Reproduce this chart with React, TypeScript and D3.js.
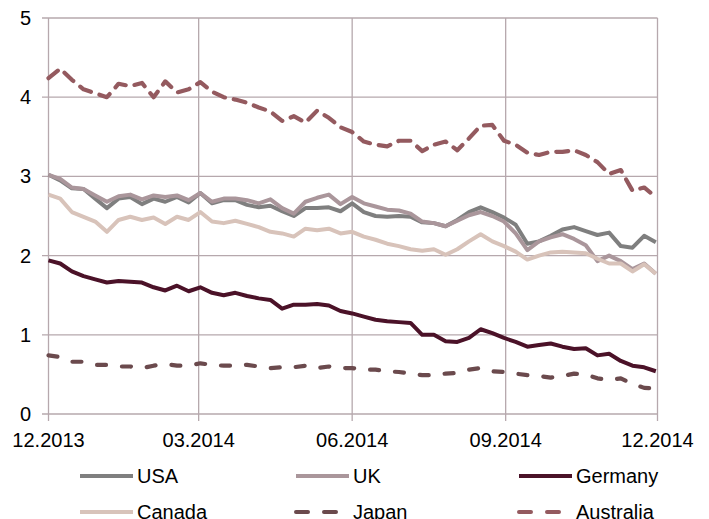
import * as d3 from "d3";

// weekly samples, Dec 2013 - Dec 2014
const startDate = new Date(2013, 11, 1);
const weeks = d3.range(53).map((i) => d3.timeDay.offset(startDate, i * 7));

const usa = [
  3.02, 2.95, 2.85, 2.84, 2.72, 2.6, 2.72, 2.74, 2.65, 2.72, 2.68, 2.74, 2.67, 2.79,
  2.66, 2.7, 2.7, 2.64, 2.61, 2.63, 2.56, 2.5, 2.6, 2.6, 2.61, 2.56, 2.66, 2.55,
  2.5, 2.49, 2.5, 2.49, 2.42, 2.41, 2.37, 2.45, 2.55, 2.61, 2.55, 2.48, 2.39, 2.15,
  2.18, 2.25, 2.33, 2.36, 2.31, 2.26, 2.29, 2.12, 2.1, 2.25, 2.17,
];
const uk = [
  3.02, 2.97, 2.86, 2.84, 2.76, 2.68, 2.75, 2.77, 2.71, 2.76, 2.74, 2.76, 2.7, 2.79,
  2.68, 2.72, 2.72, 2.7, 2.66, 2.71, 2.6, 2.53, 2.68, 2.73, 2.77, 2.65, 2.74, 2.66,
  2.62, 2.58, 2.57, 2.53, 2.43, 2.41, 2.37, 2.44, 2.51, 2.55, 2.5, 2.43, 2.28, 2.07,
  2.18, 2.23, 2.27, 2.21, 2.13, 1.93, 2.0, 1.93, 1.83, 1.9, 1.77,
];
const germany = [
  1.94, 1.9, 1.8, 1.74, 1.7, 1.66, 1.68, 1.67, 1.66, 1.6, 1.56, 1.62, 1.55, 1.6,
  1.53, 1.5, 1.53, 1.49, 1.46, 1.44, 1.33, 1.38, 1.38, 1.39, 1.37, 1.3, 1.27, 1.23,
  1.19, 1.17, 1.16, 1.15, 1.0, 1.0, 0.92, 0.91, 0.96, 1.07, 1.02, 0.96, 0.91, 0.85,
  0.87, 0.89, 0.85, 0.82, 0.83, 0.74, 0.76, 0.67, 0.61, 0.59, 0.54,
];
const canada = [
  2.77, 2.72, 2.55, 2.49, 2.43, 2.3, 2.45, 2.49, 2.45, 2.48, 2.4, 2.49, 2.45, 2.55,
  2.43, 2.41, 2.44, 2.4, 2.36, 2.3, 2.28, 2.24, 2.34, 2.32, 2.34, 2.28, 2.3, 2.24,
  2.2, 2.15, 2.12, 2.08, 2.06, 2.08, 2.01, 2.08, 2.18, 2.27, 2.18, 2.12, 2.05, 1.95,
  2.0, 2.04, 2.05, 2.04, 2.03, 1.96, 1.9, 1.9, 1.8, 1.89, 1.77,
];
const japan = [
  0.74, 0.72, 0.66, 0.66, 0.62, 0.62, 0.6, 0.6, 0.58, 0.61, 0.63, 0.61, 0.61, 0.64,
  0.62, 0.61, 0.61, 0.62, 0.6, 0.58, 0.59, 0.59, 0.61, 0.58, 0.6, 0.58, 0.58, 0.56,
  0.56, 0.54, 0.53, 0.51, 0.49, 0.49, 0.51, 0.52, 0.56, 0.58, 0.54, 0.53, 0.51, 0.49,
  0.48, 0.46, 0.48, 0.51, 0.5, 0.45, 0.43, 0.45, 0.38, 0.33, 0.32,
];
const australia = [
  4.24, 4.36, 4.22, 4.1, 4.05, 4.0, 4.17, 4.14, 4.18, 4.0, 4.2, 4.06, 4.1, 4.19,
  4.07, 4.0, 3.97, 3.93, 3.87, 3.82, 3.7, 3.76, 3.68, 3.83, 3.74, 3.62, 3.56, 3.44,
  3.4, 3.38, 3.45, 3.45, 3.32, 3.4, 3.44, 3.33, 3.48, 3.64, 3.65, 3.45, 3.4, 3.3,
  3.27, 3.31, 3.31, 3.33, 3.27, 3.18, 3.03, 3.08, 2.82, 2.86, 2.74,
];

const yTicks = [0, 1, 2, 3, 4, 5];
const xTicks = [
  new Date(2013, 11, 1),
  new Date(2014, 2, 1),
  new Date(2014, 5, 1),
  new Date(2014, 8, 1),
  new Date(2014, 11, 1),
];

const series = [
  { name: "USA", values: usa, color: "#7f7f7f", dash: null },
  { name: "UK", values: uk, color: "#aa969b", dash: null },
  { name: "Germany", values: germany, color: "#4b1228", dash: null },
  { name: "Canada", values: canada, color: "#d8c3ba", dash: null },
  { name: "Japan", values: japan, color: "#6b4a4d", dash: "9 16" },
  { name: "Australia", values: australia, color: "#945a5f", dash: "12 9" },
];

const W = 709;
const H = 519;
const font = "'Liberation Sans', Arial, Helvetica, sans-serif";
const gridColor = "#b6a8ad";

export default function App() {
  const x = d3.scaleTime().domain([xTicks[0], xTicks[4]]).range([48.5, 657.5]);
  const y = d3.scaleLinear().domain([0, 5]).range([414, 18]);

  const line = d3
    .line<number>()
    .x((_, i) => x(weeks[i]))
    .y((d) => y(d));

  const legendCols = [80, 296, 519];
  const legendRows = [476, 512];

  return (
    <svg
      width={W}
      height={H}
      style={{ position: "absolute", left: 0, top: 0, background: "#fff" }}
      fontFamily={font}
    >
      {/* horizontal grid + left ticks */}
      {yTicks.map((t) => (
        <g key={"y" + t}>
          <line x1={42} x2={657.5} y1={y(t)} y2={y(t)} stroke={gridColor} strokeWidth={1.3} />
          <text x={31} y={y(t)} dy="0.35em" textAnchor="end" fontSize={20} fill="#000">
            {t}
          </text>
        </g>
      ))}
      {/* vertical grid + bottom ticks */}
      {xTicks.map((t, i) => (
        <g key={"x" + i}>
          <line x1={x(t)} x2={x(t)} y1={y(5)} y2={421} stroke={gridColor} strokeWidth={1.3} />
          <text x={x(t)} y={440} dy="0.35em" textAnchor="middle" fontSize={20} fill="#000">
            {d3.timeFormat("%m.%Y")(t)}
          </text>
        </g>
      ))}

      {series.map((s) => (
        <path
          key={s.name}
          d={line(s.values) || ""}
          fill="none"
          stroke={s.color}
          strokeWidth={s.dash ? 4.2 : 4}
          strokeLinejoin="round"
          strokeLinecap={s.dash ? "round" : "butt"}
          strokeDasharray={s.dash || undefined}
        />
      ))}

      {/* legend */}
      {series.map((s, i) => {
        const lx = legendCols[i % 3];
        const ly = legendRows[Math.floor(i / 3)];
        return (
          <g key={"lg" + s.name}>
            <line
              x1={lx}
              x2={lx + 53}
              y1={ly}
              y2={ly}
              stroke={s.color}
              strokeWidth={4}
              strokeLinecap={s.dash ? "round" : "butt"}
              strokeDasharray={s.dash ? "12 16" : undefined}
            />
            <text x={lx + 57} y={ly} dy="0.35em" fontSize={20} fill="#000">
              {s.name}
            </text>
          </g>
        );
      })}
    </svg>
  );
}
